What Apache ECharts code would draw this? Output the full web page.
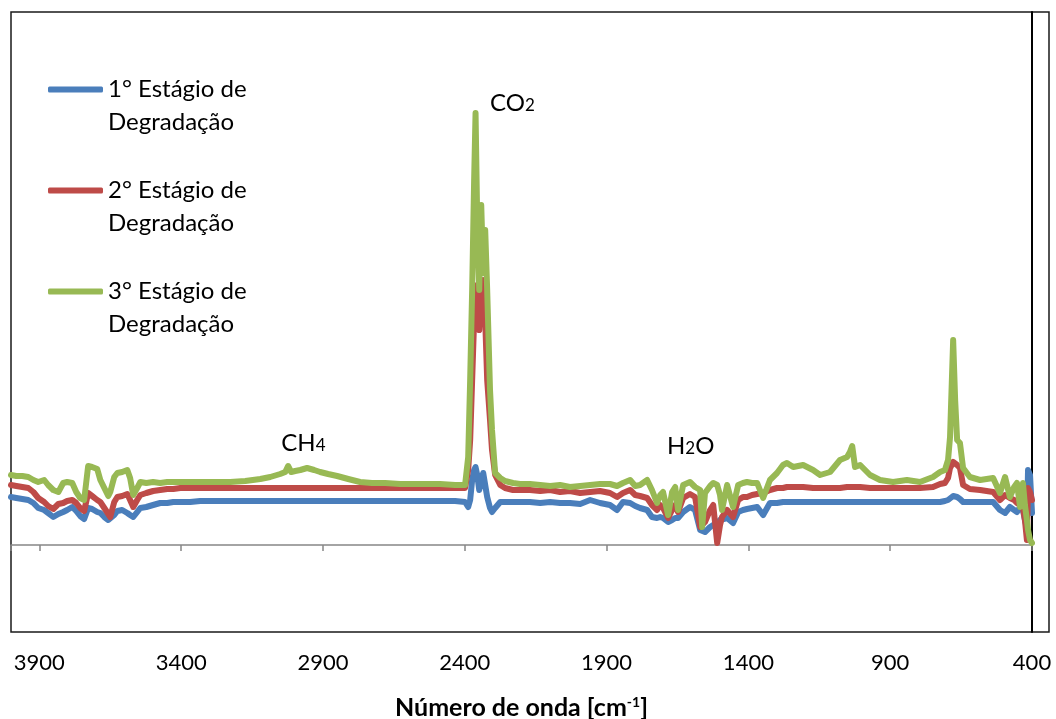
<!DOCTYPE html>
<html>
<head>
<meta charset="utf-8">
<script src="https://cdn.jsdelivr.net/npm/echarts@6/dist/echarts.min.js"></script>
<style>
  html, body { margin: 0; padding: 0; background: #fff; }
  #chart { width: 1056px; height: 719px; }
</style>
</head>
<body>
<div id="chart"></div>
<script>
// data (absorbance in arbitrary units)
const waveNumbers = [
  4000, 3981, 3960, 3939, 3921, 3904, 3883, 3869, 3851, 3833,
  3816, 3802, 3784, 3770, 3756, 3742, 3728, 3714, 3696, 3685,
  3671, 3657, 3650, 3636, 3625, 3608, 3590, 3580, 3569, 3555,
  3544, 3523, 3499, 3474, 3449, 3428, 3403, 3368, 3333, 3280,
  3227, 3174, 3121, 3086, 3051, 3033, 3023, 3012, 2998, 2980,
  2956, 2931, 2910, 2882, 2850, 2811, 2769, 2727, 2681, 2628,
  2557, 2487, 2434, 2399, 2388, 2381, 2374, 2367, 2362, 2356,
  2349, 2342, 2335, 2328, 2321, 2311, 2304, 2293, 2275, 2258,
  2230, 2205, 2170, 2134, 2099, 2064, 2029, 1993, 1958, 1923,
  1888, 1863, 1842, 1817, 1799, 1782, 1757, 1740, 1722, 1711,
  1701, 1683, 1669, 1658, 1648, 1630, 1606, 1588, 1570, 1563,
  1553, 1535, 1524, 1510, 1500, 1493, 1475, 1454, 1436, 1419,
  1405, 1387, 1369, 1348, 1324, 1299, 1278, 1264, 1242, 1207,
  1172, 1147, 1112, 1077, 1052, 1042, 1034, 1024, 1006, 971,
  936, 890, 841, 795, 749, 724, 707, 696, 689, 678,
  671, 664, 654, 643, 619, 583, 537, 513, 495, 478,
  463, 453, 442, 432, 425, 418, 414, 407, 400
]

const stage1 = [
  48, 47, 46, 45, 42, 37, 35, 32, 28, 31,
  33, 35, 38, 34, 29, 26, 37, 36, 33, 32,
  28, 25, 23, 30, 34, 35, 32, 30, 28, 33,
  37, 38, 40, 42, 42, 43, 43, 43, 44, 44,
  44, 44, 44, 44, 44, 44, 44, 44, 44, 44,
  44, 44, 44, 44, 44, 44, 44, 44, 44, 44,
  44, 44, 44, 43, 38, 45, 65, 75, 78, 70,
  55, 65, 72, 60, 48, 37, 33, 37, 43, 43,
  43, 43, 43, 42, 43, 42, 42, 41, 45, 42,
  40, 35, 43, 42, 39, 37, 35, 28, 27, 28,
  27, 23, 25, 27, 27, 33, 38, 35, 15, 14,
  13, 18, 20, 22, 25, 27, 27, 22, 33, 35,
  36, 37, 38, 30, 42, 42, 43, 43, 43, 43,
  43, 43, 43, 43, 43, 43, 43, 43, 43, 43,
  43, 43, 43, 43, 43, 43, 44, 45, 47, 49,
  50, 48, 46, 43, 43, 43, 43, 35, 32, 38,
  35, 33, 38, 35, 25, 17, 75, 70, 32
]

const stage2 = [
  60, 59, 58, 57, 53, 47, 43, 39, 36, 41,
  42, 44, 45, 42, 37, 34, 52, 49, 45, 43,
  37, 31, 28, 43, 48, 49, 51, 45, 38, 45,
  50, 52, 54, 55, 56, 56, 57, 57, 57, 57,
  57, 57, 57, 57, 57, 57, 57, 57, 57, 57,
  57, 57, 57, 57, 57, 57, 57, 57, 57, 57,
  57, 57, 57, 57, 75, 105, 165, 225, 245, 260,
  215, 260, 265, 225, 165, 125, 95, 70, 60, 57,
  55, 55, 55, 54, 55, 53, 54, 52, 53, 54,
  52, 48, 52, 55, 50, 49, 47, 40, 35, 40,
  37, 27, 35, 40, 33, 47, 51, 48, 18, 20,
  23, 35, 40, 2, 20, 28, 35, 28, 45, 48,
  48, 50, 51, 52, 55, 57, 57, 58, 58, 58,
  57, 57, 57, 57, 58, 58, 58, 58, 58, 57,
  57, 57, 57, 57, 58, 61, 62, 67, 77, 83,
  85, 80, 77, 60, 56, 55, 53, 45, 50, 47,
  45, 42, 40, 37, 25, 5, 57, 53, 45
]

const stage3 = [
  70, 69, 69, 68, 65, 63, 65, 60, 55, 53,
  62, 63, 62, 53, 47, 45, 79, 78, 76, 65,
  57, 49, 53, 68, 72, 73, 75, 67, 50, 57,
  63, 62, 63, 62, 63, 63, 63, 63, 63, 63,
  63, 64, 66, 68, 71, 73, 79, 73, 74, 75,
  77, 75, 73, 71, 69, 66, 63, 62, 62, 61,
  61, 61, 60, 60, 88, 165, 255, 365, 432, 322,
  255, 340, 272, 315, 255, 155, 115, 72, 67, 64,
  62, 61, 61, 60, 59, 60, 58, 59, 60, 61,
  61, 59, 62, 65, 59, 60, 65, 55, 42, 50,
  53, 30, 53, 58, 35, 60, 63, 58, 55, 18,
  52, 59, 62, 60, 50, 35, 60, 38, 60, 62,
  63, 62, 62, 47, 65, 72, 80, 82, 78, 80,
  75, 70, 73, 85, 88, 93, 99, 78, 80, 70,
  65, 63, 65, 63, 68, 73, 75, 85, 108, 205,
  145, 105, 102, 77, 68, 65, 67, 52, 68, 48,
  58, 62, 38, 62, 40, 25, 15, 5, 2
]

const seriesNames = [
  '1° Estágio de\nDegradação',
  '2° Estágio de\nDegradação',
  '3° Estágio de\nDegradação'
]
const seriesColors = ['#4a7ebb', '#be4b48', '#98b954']

const FONT = 'Lato'

function pairs(values) {
  return waveNumbers.map((w, i) => [w, values[i]])
}

function annotation(text, coord) {
  return {
    coord: coord,
    symbolSize: 0,
    label: {
      show: true,
      position: 'right',
      distance: 0,
      formatter: text,
      rich: {
        a: { fontSize: 24, fontFamily: FONT, color: '#000' },
        s: { fontSize: 17, fontFamily: FONT, color: '#000', verticalAlign: 'bottom', padding: [0, 0, 1, 0] }
      }
    }
  }
}

function renderChart() {
  const myChart = echarts.init(document.getElementById('chart'))

  const lineSeries = [stage1, stage2, stage3].map((values, i) => ({
    name: seriesNames[i],
    type: 'line',
    xAxisIndex: 0,
    yAxisIndex: 0,
    data: pairs(values),
    symbol: 'none',
    color: seriesColors[i],
    lineStyle: { width: 6, color: seriesColors[i], cap: 'round', join: 'round' },
    animation: false
  }))

  lineSeries[2].markPoint = {
    silent: true,
    animation: false,
    symbol: 'circle',
    data: [
      annotation('{a|CO}{s|2}', [2311, 442]),
      annotation('{a|CH}{s|4}', [3047, 102]),
      annotation('{a|H}{s|2}{a|O}', [1687, 99])
    ]
  }

  const option = {
    backgroundColor: '#fff',
    animation: false,
    textStyle: { fontFamily: FONT },
    grid: [
      { left: 11, right: 24, top: 12, bottom: 87, show: false, outerBoundsMode: 'none' },
      { left: 11, right: 7, top: 12, bottom: 87, show: true, borderColor: '#1a1a1a', borderWidth: 1.5,
        backgroundColor: 'transparent', outerBoundsMode: 'none' }
    ],
    legend: {
      orient: 'vertical',
      left: 48,
      top: 40,
      padding: 0,
      itemGap: 2,
      itemWidth: 55,
      itemHeight: 6,
      icon: 'roundRect',
      data: seriesNames,
      // empty first line so the icon sits beside the first text line
      formatter: name => '\n' + name,
      textStyle: { fontSize: 24, fontFamily: FONT, color: '#000', lineHeight: 33 }
    },
    xAxis: [
      {
        type: 'value', gridIndex: 0, inverse: true, min: 400, max: 4000, interval: 500,
        position: 'top',
        axisLine: { show: true, onZero: true, lineStyle: { color: '#868686', width: 1.5 } },
        axisTick: { show: true, inside: true, length: 6, lineStyle: { color: '#868686', width: 1.5 } },
        axisLabel: { show: false },
        splitLine: { show: false }
      },
      {
        type: 'value', gridIndex: 0, inverse: true, min: 400, max: 4000, interval: 500,
        position: 'bottom',
        axisLine: { show: false, onZero: false },
        axisTick: { show: false },
        axisLabel: {
          show: true, margin: 20, fontSize: 22, fontFamily: FONT, color: '#000', showMaxLabel: false,
          formatter: v => String(v)
        },
        splitLine: { show: false },
        name: 'Número de onda [cm{sup|-1}]',
        nameLocation: 'middle',
        nameGap: 63,
        nameTextStyle: {
          fontSize: 25, fontWeight: 'bold', fontFamily: FONT, color: '#000',
          rich: { sup: { fontSize: 14, fontWeight: 'bold', fontFamily: FONT, color: '#000', verticalAlign: 'top' } }
        }
      },
      { type: 'value', gridIndex: 1, show: false, min: 0, max: 1 }
    ],
    yAxis: [
      {
        type: 'value', gridIndex: 0, min: -87, max: 533, position: 'right',
        axisLine: { show: true, onZero: false, lineStyle: { color: '#000', width: 2 } },
        axisTick: { show: false },
        axisLabel: { show: false },
        splitLine: { show: false }
      },
      { type: 'value', gridIndex: 1, show: false, min: 0, max: 1 }
    ],
    series: lineSeries
  }
  myChart.setOption(option)
}

document.addEventListener('DOMContentLoaded', renderChart)
</script>
</body>
</html>
